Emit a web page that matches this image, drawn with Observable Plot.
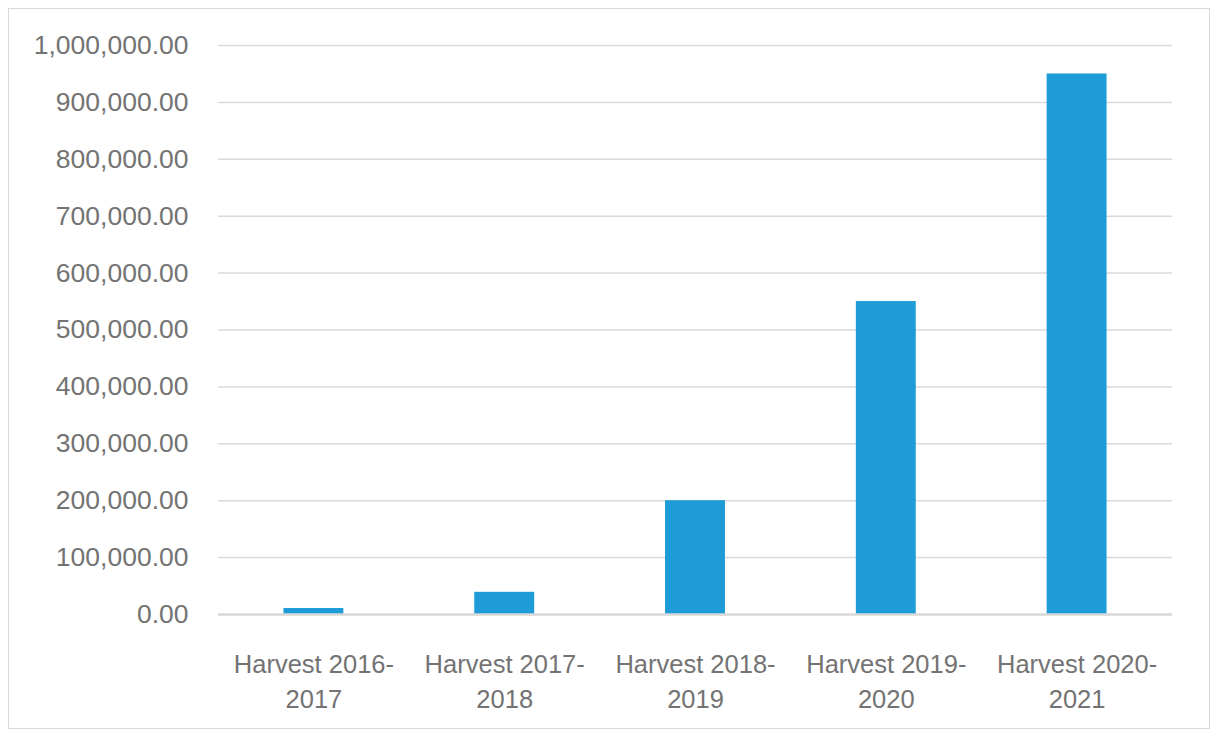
<!DOCTYPE html>
<html>
<head>
<meta charset="utf-8">
<script src="https://cdn.jsdelivr.net/npm/d3@7"></script>
<script src="https://cdn.jsdelivr.net/npm/@observablehq/plot@0.6"></script>
<style>
  html, body { margin: 0; padding: 0; background: #fff; }
  #wrap { position: relative; width: 1218px; height: 738px; overflow: hidden; }
  #frame { position: absolute; left: 8px; top: 8px; width: 1200px; height: 719px; border: 1.5px solid #d9d9d9; pointer-events: none; }
  #chart svg { display: block; }
</style>
</head>
<body>
<div id="wrap"><div id="chart"></div><div id="frame"></div></div>
<script>
const categories = ["Harvest 2016-\n2017", "Harvest 2017-\n2018", "Harvest 2018-\n2019", "Harvest 2019-\n2020", "Harvest 2020-\n2021"];
const values = [10500, 39000, 200000, 550000, 950000];
const yTicks = [0, 100000, 200000, 300000, 400000, 500000, 600000, 700000, 800000, 900000, 1000000];

const data = categories.map((c, i) => ({category: c, value: values[i]}));
const fmt = d3.format(",.2f");

const chart = Plot.plot({
  width: 1218,
  height: 738,
  marginLeft: 218,
  marginRight: 46,
  marginTop: 45,
  marginBottom: 124,
  style: {fontFamily: "'Liberation Sans', Arial, sans-serif", color: "#737373", background: "transparent"},
  x: {domain: categories, paddingInner: 0.686, paddingOuter: 0.343, round: false, label: null},
  y: {domain: [0, 1000000], label: null},
  marks: [
    Plot.gridY(yTicks, {stroke: "#d9d9d9", strokeOpacity: 1, strokeWidth: 1.5}),
    Plot.barY(data, {x: "category", y: "value", fill: "#1e9cd8"}),
    Plot.ruleY([0], {stroke: "#d9d9d9", strokeWidth: 2.5}),
    Plot.axisY(yTicks, {tickSize: 0, tickPadding: 30, tickFormat: fmt, fontSize: 26.5, label: null}),
    Plot.axisX({tickSize: 0, tickPadding: 34, fontSize: 25.5, lineHeight: 1.37, label: null})
  ]
});
document.getElementById("chart").appendChild(chart);
</script>
</body>
</html>
